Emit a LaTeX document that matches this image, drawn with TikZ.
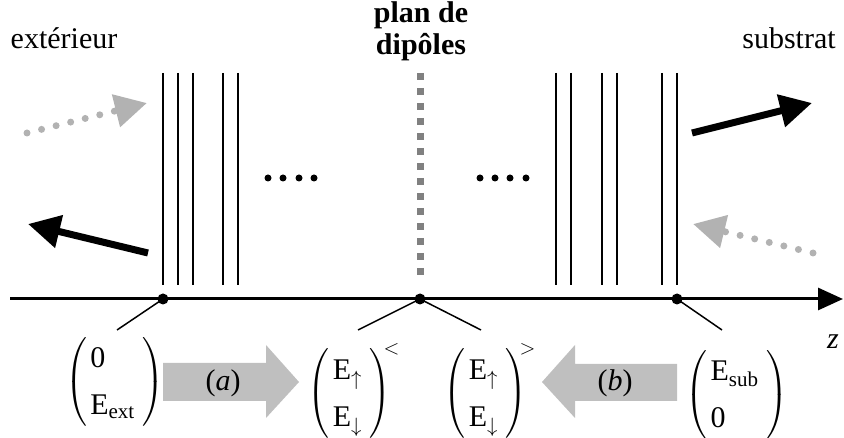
\documentclass[tikz,border=0pt]{standalone}
\usepackage{amsmath}
\usepackage{fontspec}
\setmainfont{Liberation Serif}
\usepackage{tikz}
\usetikzlibrary{arrows.meta}
\renewcommand{\arraystretch}{1.3}
\newcommand{\colvec}[2]{\left(\begin{array}{@{\hspace{3pt}}l@{\hspace{8pt}}}#1\\#2\end{array}\right)}
\tikzset{
    layer/.style = {line width=2pt},
    dot/.style = {circle, fill, inner sep=0pt, minimum size=11pt},
    zaxis/.style = {line width=3pt, -{Triangle[length=25pt, width=22pt]}},
    wave/.style = {line width=7pt, -{Triangle[length=32pt, width=32pt]}},
    ghost/.style = {gray!60, line width=7pt, line cap=round,
        dash pattern=on 0pt off 15pt, -{Triangle[length=32pt, width=32pt]}},
    region/.style = {font=\fontsize{30}{36}\selectfont, inner sep=0pt},
    vec/.style = {font=\fontsize{30}{36}\selectfont, inner sep=0pt},
    link/.style = {line width=1.5pt},
    flow/.style = {fill=gray!50}
}

\begin{document}
\begin{tikzpicture}[x=1pt, y=-1pt]
    \useasboundingbox (0,0) rectangle (844,438);

    % Titles
    \node[region, anchor=base] (ext) at (64,49) {extérieur};
    \node[region, anchor=base] (sub) at (789,49) {substrat};
    \node[region, font=\fontsize{30}{32}\selectfont\bfseries, align=center, anchor=base] (dip) at (421,55) {plan de\\dipôles};

    % Layers
    \foreach \x in {163,178,193,223,238,556,571,602,617,662,677}
        \draw[layer] (\x,73) -- (\x,285);
    \draw[gray, line width=7pt, dash pattern=on 7pt off 8pt] (420,73) -- (420,277);
    \foreach \x in {268,283,299,314,480,495,510,526}
        \fill (\x,178) circle (3.5pt);

    % Waves
    \coordinate (inL) at (27,133);
    \coordinate (inR) at (147,103);
    \coordinate (outL) at (148,253);
    \coordinate (outR) at (28,224);
    \coordinate (trL) at (692,133);
    \coordinate (trR) at (812,103);
    \coordinate (bkL) at (813,253);
    \coordinate (bkR) at (693,224);
    \draw[ghost] (inL) -- (inR);
    \draw[wave] (outL) -- (outR);
    \draw[wave] (trL) -- (trR);
    \draw[ghost] (bkL) -- (bkR);

    % Axis
    \coordinate (zstart) at (10,299);
    \coordinate (zend) at (843,299);
    \draw[zaxis] (zstart) -- (zend);
    \node[dot] (pext) at (163,299) {};
    \node[dot] (pdip) at (420,299) {};
    \node[dot] (psub) at (677,299) {};
    \node[region] (zlabel) at (833,342) {\textit{z}};

    % Field vectors
    \node[vec] (vext) at (115,382) {$\colvec{\mathrm{0}}{\mathrm{E}_{\mathrm{ext}}}$};
    \node[vec] (vlow) at (354,392) {$\colvec{\mathrm{E}_{\uparrow}}{\mathrm{E}_{\downarrow}}^{\hspace{-8pt}<}$};
    \node[vec] (vhigh) at (490,392) {$\colvec{\mathrm{E}_{\uparrow}}{\mathrm{E}_{\downarrow}}^{\hspace{-8pt}>}$};
    \node[vec] (vsub) at (737,395) {$\colvec{\mathrm{E}_{\mathrm{sub}}}{\mathrm{0}}$};

    % Links
    \coordinate (extfoot) at (117,330);
    \coordinate (lowfoot) at (358,330);
    \coordinate (highfoot) at (481,330);
    \coordinate (subfoot) at (722,330);
    \draw[link] (pext.center) -- (extfoot);
    \draw[link] (pdip.center) -- (lowfoot);
    \draw[link] (pdip.center) -- (highfoot);
    \draw[link] (psub.center) -- (subfoot);

    % Propagation steps
    \fill[flow] (163,363) -- (266,363) -- (266,345) -- (299,382) -- (266,418) -- (266,401) -- (163,401) -- cycle;
    \fill[flow] (677,364) -- (575,364) -- (575,345) -- (542,382) -- (575,418) -- (575,401) -- (677,401) -- cycle;
    \node[region] (stepa) at (223,383) {(\textit{a})};
    \node[region] (stepb) at (615,383) {(\textit{b})};
\end{tikzpicture}
\end{document}
